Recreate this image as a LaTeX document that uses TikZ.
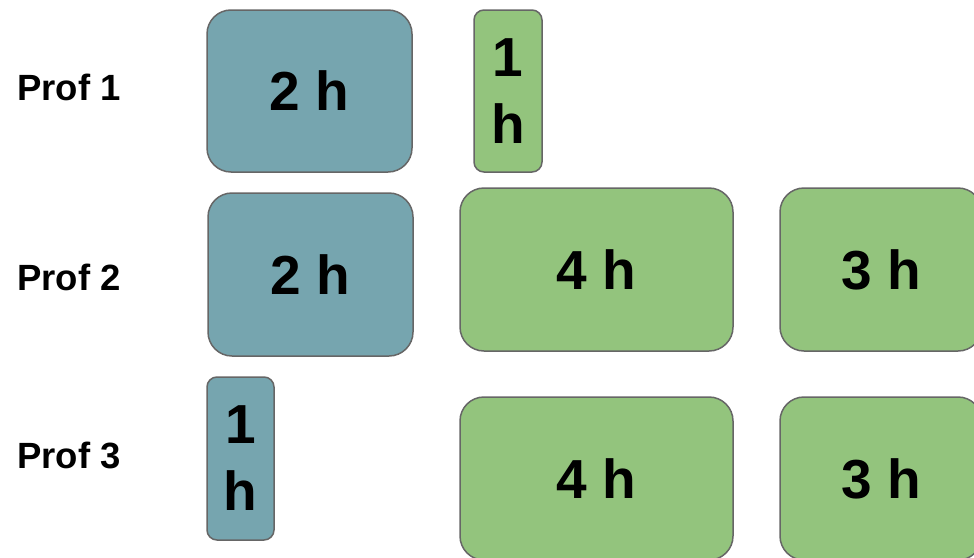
\documentclass[tikz,border=0pt]{standalone}
\usepackage{fontspec}
\setmainfont{Liberation Sans}
\definecolor{profblue}{HTML}{76A5AF}
\definecolor{profgreen}{HTML}{93C47D}
\definecolor{edgegray}{HTML}{666666}
\begin{document}
\begin{tikzpicture}[x=1pt, y=-1pt,
    slot/.style={draw=edgegray, line width=1.5pt, rounded corners=24pt, inner sep=0pt,
        align=center, font=\bfseries\fontsize{55}{67}\selectfont},
    thin slot/.style={slot, rounded corners=10pt},
    prof/.style={anchor=west, inner sep=0pt, font=\bfseries\fontsize{36.5}{44}\selectfont}]
\path[use as bounding box, clip] (0,0) rectangle (974,557);
% teachers
\node[prof] (p1) at (17,87) {Prof 1};
\node[prof] (p2) at (17,277) {Prof 2};
\node[prof] (p3) at (17,455) {Prof 3};
% Prof 1
\node[slot, fill=profblue, minimum width=205pt, minimum height=162pt] (b11) at (309.5,91) {2 h};
\node[thin slot, fill=profgreen, minimum width=68pt, minimum height=162pt] (g12) at (508,91) {1\\h};
% Prof 2
\node[slot, fill=profblue, minimum width=205pt, minimum height=163pt] (b21) at (310.5,274.5) {2 h};
\node[slot, fill=profgreen, minimum width=273pt, minimum height=163pt] (g22) at (596.5,269.5) {4 h};
\node[slot, fill=profgreen, minimum width=202pt, minimum height=163pt] (g23) at (881,269.5) {3 h};
% Prof 3
\node[thin slot, fill=profblue, minimum width=67pt, minimum height=163pt] (b31) at (240.5,458.5) {1\\h};
\node[slot, fill=profgreen, minimum width=273pt, minimum height=163pt] (g32) at (596.5,478.5) {4 h};
\node[slot, fill=profgreen, minimum width=202pt, minimum height=163pt] (g33) at (881,478.5) {3 h};
\end{tikzpicture}
\end{document}
